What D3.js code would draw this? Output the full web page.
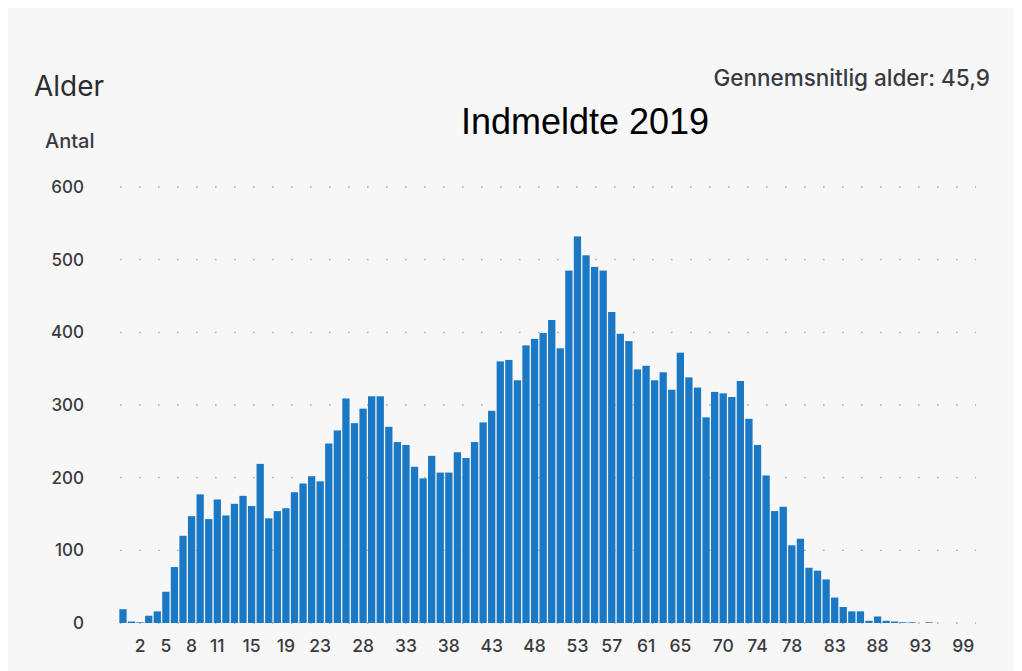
<!DOCTYPE html>
<html>
<head>
<meta charset="utf-8">
<script src="https://cdn.jsdelivr.net/npm/d3@7"></script>
<style>
  body { margin: 0; background: #fff; }
  svg text { font-family: Inter, "Noto Sans", sans-serif; }
</style>
</head>
<body>
<script>
// ages (category axis) - age 97 has no members and is not listed
var ages = [0, 1, 2, 3, 4, 5, 6, 7, 8, 9,
  10, 11, 12, 13, 14, 15, 16, 17, 18, 19,
  20, 21, 22, 23, 24, 25, 26, 27, 28, 29,
  30, 31, 32, 33, 34, 35, 36, 37, 38, 39,
  40, 41, 42, 43, 44, 45, 46, 47, 48, 49,
  50, 51, 52, 53, 54, 55, 56, 57, 58, 59,
  60, 61, 62, 63, 64, 65, 66, 67, 68, 69,
  70, 71, 72, 73, 74, 75, 76, 77, 78, 79,
  80, 81, 82, 83, 84, 85, 86, 87, 88, 89,
  90, 91, 92, 93, 94, 95, 96, 98, 99];

// number of members per age
var antal = [19, 2, 1, 10, 16, 43, 77, 120, 147, 177,
  143, 170, 148, 164, 175, 161, 219, 144, 154, 158,
  180, 192, 202, 195, 247, 265, 309, 275, 295, 312,
  312, 270, 249, 245, 215, 199, 230, 207, 207, 235,
  227, 249, 276, 292, 360, 362, 334, 382, 391, 399,
  417, 378, 485, 532, 506, 490, 485, 428, 398, 388,
  349, 354, 334, 345, 321, 372, 338, 324, 283, 318,
  316, 311, 333, 281, 245, 203, 154, 160, 107, 116,
  76, 72, 60, 35, 22, 16, 16, 3, 9, 3,
  2, 1, 1, 0, 1, 0, 0, 0, 0];

var xTicks = [2, 5, 8, 11, 15, 19, 23, 28, 33, 38, 43, 48, 53, 57, 61, 65, 70, 74, 78, 83, 88, 93, 99];
var yTicks = [0, 100, 200, 300, 400, 500, 600];

var data = ages.map(function(a, i) { return {age: a, antal: antal[i]}; });

var width = 1022, height = 671;

var svg = d3.select("body").append("svg")
    .attr("width", width)
    .attr("height", height);

// panel background
svg.append("rect")
    .attr("x", 8).attr("y", 8)
    .attr("width", 1006).attr("height", 663)
    .attr("fill", "#f7f7f8");

var x = d3.scaleBand()
    .domain(ages)
    .range([118.7, 967.6])
    .paddingInner(0.15)
    .paddingOuter(0.075);

var y = d3.scaleLinear()
    .domain([0, 600])
    .range([623, 187]);

// dotted grid
svg.append("g").selectAll("line")
    .data(yTicks)
    .enter()
    .append("line")
    .attr("x1", 120).attr("x2", 976)
    .attr("y1", function(d) { return y(d); })
    .attr("y2", function(d) { return y(d); })
    .attr("stroke", "#a9a9ae")
    .attr("stroke-width", 1.4)
    .attr("stroke-dasharray", "1.6,17.4");

// bars
svg.append("g").selectAll("rect")
    .data(data)
    .enter()
    .append("rect")
    .attr("x", function(d) { return x(d.age); })
    .attr("y", function(d) { return y(d.antal); })
    .attr("width", x.bandwidth())
    .attr("height", function(d) { return y(0) - y(d.antal); })
    .attr("fill", "#1b78c4");

// y axis
var yAxis = svg.append("g")
    .attr("transform", "translate(84,0)")
    .call(d3.axisLeft(y).tickValues(yTicks).tickSize(0).tickPadding(0));
yAxis.select(".domain").remove();
yAxis.selectAll("text")
    .attr("font-size", 17)
    .attr("font-weight", 500)
    .attr("fill", "#3a3a3e")
    .attr("font-family", "Inter, sans-serif");

// x axis
var xAxis = svg.append("g")
    .attr("transform", "translate(0,640)")
    .call(d3.axisBottom(x).tickValues(xTicks).tickSize(0).tickPadding(0));
xAxis.select(".domain").remove();
xAxis.selectAll("text")
    .attr("font-size", 17.5)
    .attr("font-weight", 500)
    .attr("fill", "#3a3a3e")
    .attr("font-family", "Inter, sans-serif");

// titles
svg.append("text")
    .attr("x", 34).attr("y", 96)
    .attr("font-size", 28)
    .attr("fill", "#2c2c30")
    .text("Alder");

svg.append("text")
    .attr("x", 990).attr("y", 86)
    .attr("text-anchor", "end")
    .attr("font-size", 22.5)
    .attr("font-weight", 500)
    .attr("fill", "#3a3a3e")
    .text("Gennemsnitlig alder: 45,9");

svg.append("text")
    .attr("x", 45).attr("y", 148)
    .attr("font-size", 20)
    .attr("font-weight", 500)
    .attr("fill", "#3a3a3e")
    .text("Antal");

svg.append("text")
    .attr("x", 585).attr("y", 134)
    .attr("text-anchor", "middle")
    .attr("font-size", 36)
    .attr("fill", "#000")
    .style("font-family", "'Liberation Sans', Arial, sans-serif")
    .text("Indmeldte 2019");
</script>
</body>
</html>
